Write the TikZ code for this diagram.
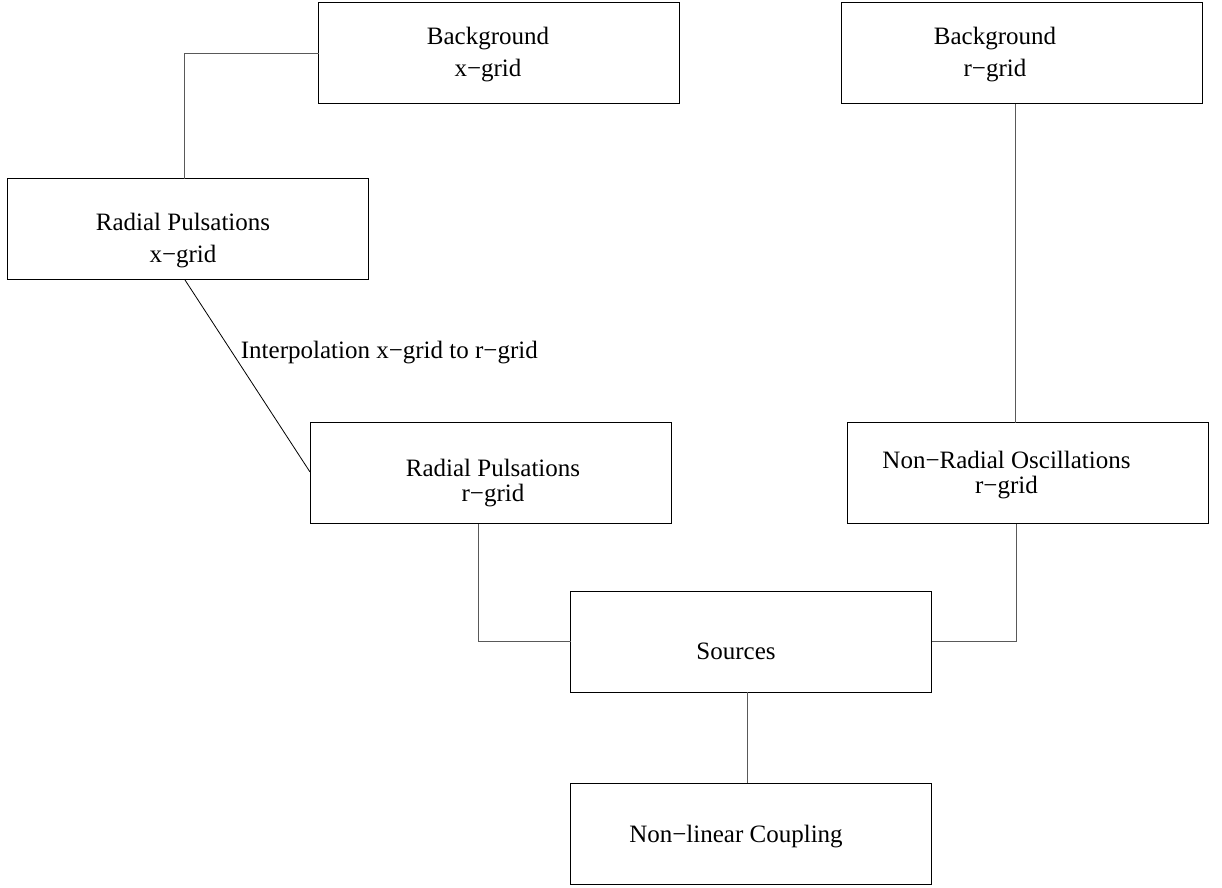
\documentclass[tikz,border=0pt]{standalone}
\usepackage{fontspec}
\setmainfont{Liberation Serif}
\begin{document}
\begin{tikzpicture}[x=.5pt,y=.5pt,
	box/.style={draw,line width=.5pt,minimum width=180.5pt,minimum height=50.5pt,inner sep=0pt,outer sep=0pt},
	txt/.style={align=center,inner sep=0pt,font=\fontsize{12.5}{16}\selectfont},
	tight/.style={txt,font=\fontsize{12.5}{12.5}\selectfont},
	link/.style={draw=black!65,line width=.5pt}]
	\useasboundingbox(0,0)rectangle(1222,888);
	% boxes
	\node[box](bgx)at(499,834.5){};
	\node[box](bgr)at(1021.5,834.5){};
	\node[box](rpx)at(188,658.5){};
	\node[box](rpr)at(490.5,414.5){};
	\node[box](nro)at(1027.5,414.5){};
	\node[box](src)at(751,246){};
	\node[box](nlc)at(751,54){};
	% texts
	\node[txt](bgxt)at(488,833){Background\\x−grid};
	\node[txt](bgrt)at(995,833){Background\\r−grid};
	\node[txt](rpxt)at(183,647.5){Radial Pulsations\\x−grid};
	\node[tight](rprt)at(493,404.5){Radial Pulsations\\r−grid};
	\node[tight](nrot)at(1006.5,413){Non−Radial Oscillations\\r−grid};
	\node[txt](srct)at(736,237){Sources};
	\node[txt](nlct)at(736,51){Non−linear Coupling};
	% links
	\draw[link](bgx.west)-|([xshift=-2pt]rpx.north);
	\draw[link]([xshift=-3pt]bgr.south)--([xshift=-3pt]bgr.south|-nro.north);
	\draw[line width=.4pt]([xshift=-1.5pt]rpx.south)--node[right,pos=.38,txt,inner sep=4pt](interp){Interpolation x−grid to r−grid}([yshift=.75pt]rpr.west);
	\draw[link]([xshift=-6.25pt]rpr.south)|-(src.west);
	\draw[link]([xshift=-5.75pt]nro.south)|-(src.east);
	\draw[link]([xshift=-2pt]src.south)--([xshift=-2pt]nlc.north);
\end{tikzpicture}
\end{document}
